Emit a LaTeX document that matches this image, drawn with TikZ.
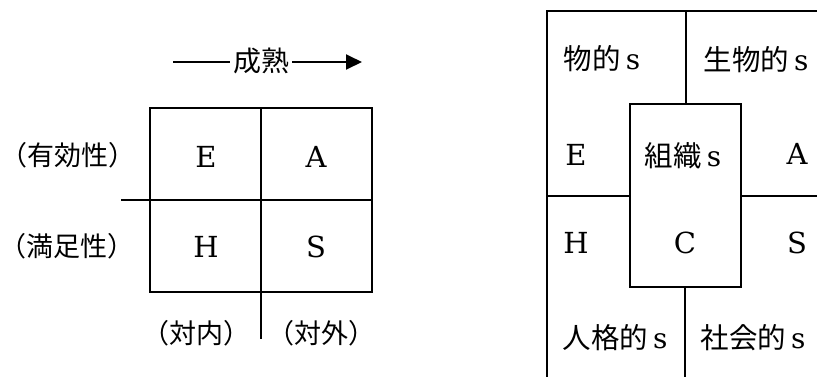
\documentclass[tikz,border=0pt]{standalone}
\usepackage{fontspec}
\newfontfamily\cjk{Noto Sans CJK JP}
\newfontfamily\latn{DejaVu Serif}
\usetikzlibrary{arrows.meta}
\tikzset{
  ln/.style={line width=1.9pt, line cap=rect},
  lat/.style={font=\latn\fontsize{29}{32}\selectfont, inner sep=0pt},
  jp/.style={font=\cjk\fontsize{27}{30}\selectfont, inner sep=1pt},
  jpr/.style={font=\cjk\fontsize{28.5}{31}\selectfont, inner sep=1pt},
}
\newcommand{\sfx}{\hspace{5pt}{\latn\fontsize{28}{30}\selectfont s}}
\begin{document}
\begin{tikzpicture}[x=1pt,y=-1pt]
\useasboundingbox (0,0) rectangle (817,376);
% ---- left diagram ----
\node[font=\cjk\fontsize{28}{30}\selectfont, inner sep=4pt] (mat) at (261,61) {成熟};
\coordinate (arrS) at (174,62);
\coordinate (arrE) at (362,62);
\draw[ln] (arrS) -- (arrS -| mat.west);
\draw[ln, -{Triangle[length=16pt,width=15pt]}] (mat.east |- arrE) -- (arrE);

\draw[ln] (150,108) rectangle (372,292);
\draw[ln] (261,108) -- (261,338);
\draw[ln] (122,200) -- (372,200);

\node[lat] (lE) at (206,157) {E};
\node[lat] (lA) at (316,157) {A};
\node[lat] (lH) at (206,247) {H};
\node[lat] (lS) at (316,247) {S};
\node[jp] (yuko) at (68,155) {（有効性）};
\node[jp] (manzoku) at (67,246) {（満足性）};
\node[jp] (tainai) at (196,333) {（対内）};
\node[jp] (taigai) at (321,333) {（対外）};

% ---- right diagram ----
\draw[ln] (547,376) -- (547,11) -- (817,11);
\draw[ln] (686,11) -- (686,104);
\draw[ln] (630,104) rectangle (741,287);
\draw[ln] (547,196) -- (630,196);
\draw[ln] (741,196) -- (817,196);
\draw[ln] (685,287) -- (685,376);

\node[jpr] (butsu) at (602,59) {物的\sfx};
\node[jpr] (seibutsu) at (756,60) {生物的\sfx};
\node[lat] (rE) at (576,155) {E};
\node[jpr] (soshiki) at (683,156) {組織\sfx};
\node[lat] (rA) at (797,154) {A};
\node[lat] (rH) at (576,243) {H};
\node[lat] (rC) at (685,243) {C};
\node[lat] (rS) at (797,243) {S};
\node[jpr] (jinkaku) at (615,338) {人格的\sfx};
\node[jpr] (shakai) at (753,338) {社会的\sfx};
\end{tikzpicture}
\end{document}
